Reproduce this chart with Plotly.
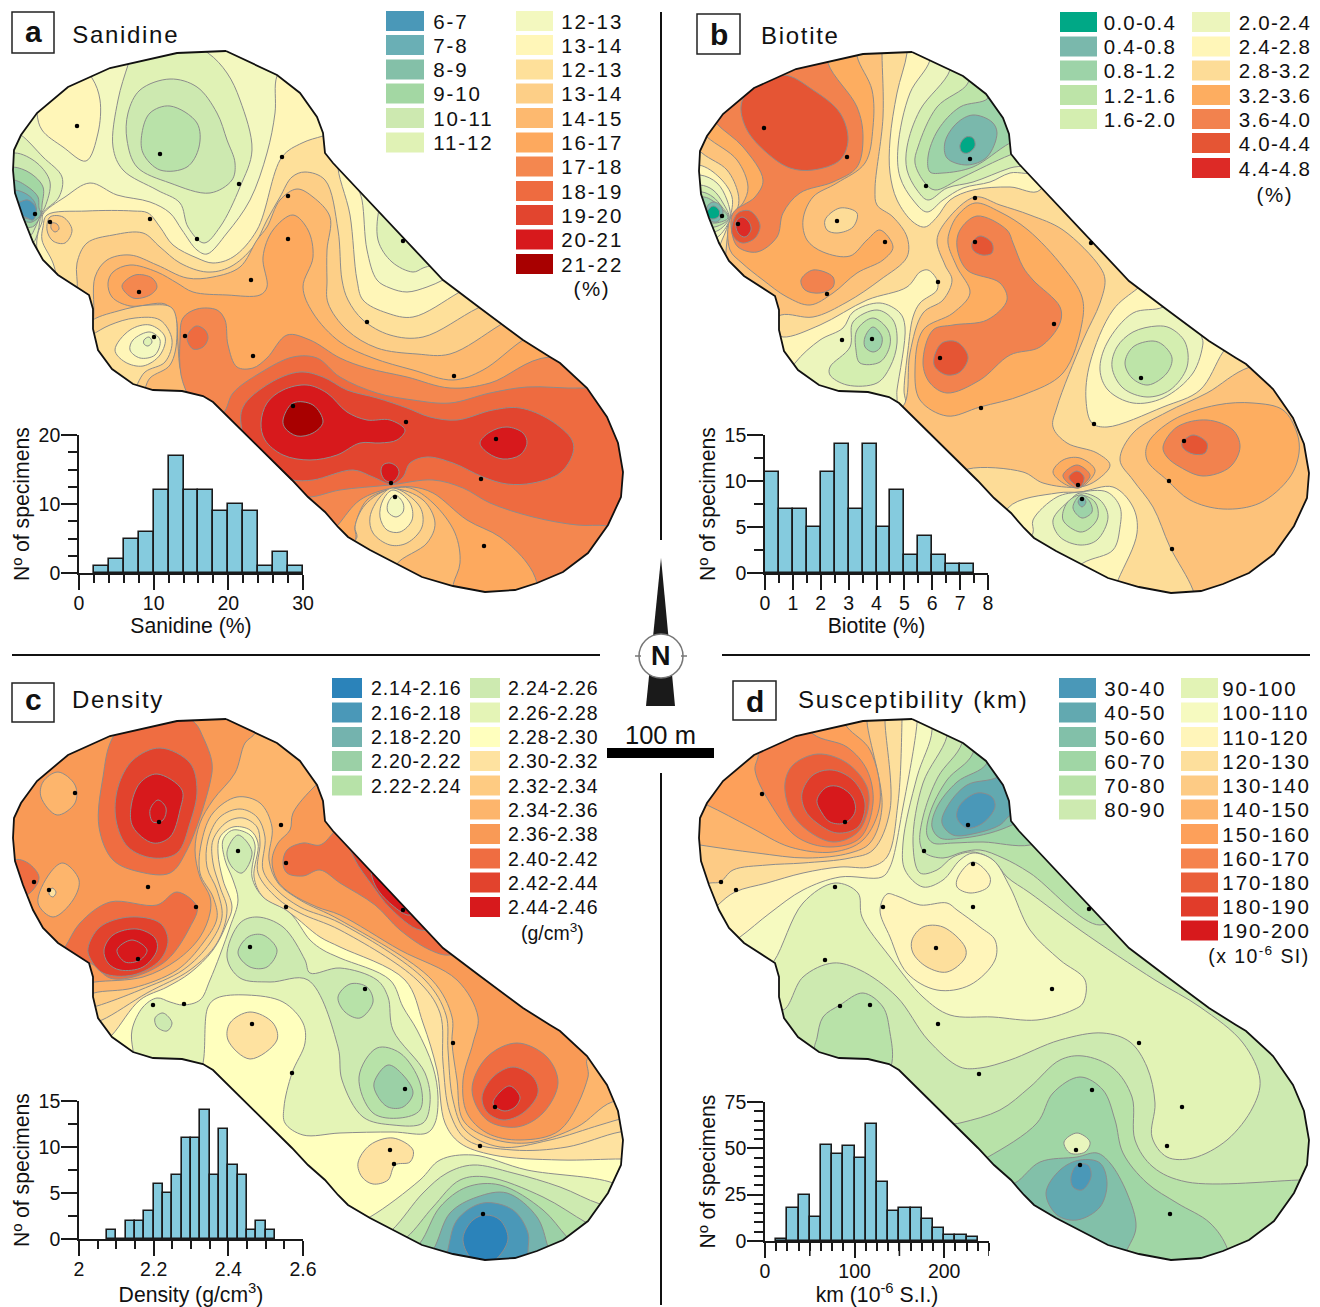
import json, re
import plotly.graph_objects as go

W, H = 1320, 1307
# ---------- shared map outline (page px, panel a frame) and panel offsets ----------
OUTLINE = [(226,51),(250,62),(277,75),(300,93),(317,117),(323,133),(325,153),(333,163),(443,280),(480,308),(500,323),
 (523,340),(550,357),(560,363),(587,388),(607,417),(618,443),(623,472),(621,497),(608,525),(588,553),(563,572),(537,583),
 (515,590),(485,592),(453,586),(422,577),(397,564),(370,550),(348,537),(338,527),(325,512),(308,497),(292,480),(242,430),
 (224,413),(213,402),(203,396),(182,391),(153,390),(133,384),(112,369),(98,350),(93,329),(93,309),(89,295),(77,287),
 (58,275),(43,260),(33,242),(23,217),(15,193),(13,170),(14,150),(21,135),(37,113),(68,87),(110,68),(177,53),(226,51)]
OFFSETS = {"a":(0,0),"b":(686,1),"c":(0,668),"d":(686,668)}
MASKS = {"a":(-5,705,-5,665),"b":(628,1330,-5,665),"c":(-5,705,620,1330),"d":(628,1330,620,1330)}

# ---------- panel a: Sanidine ----------
A_LABELS_1 = ["6-7","7-8","8-9","9-10","10-11","11-12"]
A_COLORS_1 = ["#4a98b8","#6aafb5","#84c0a8","#a3d7a3","#cde9b0","#e0f2b5"]
A_LABELS_2 = ["12-13","13-14","12-13","13-14","14-15","16-17","17-18","18-19","19-20","20-21","21-22"]
A_COLORS_2 = ["#f3f8bf","#fff6b8","#fee09a","#fdcf87","#fdb96f","#fda95e","#f4874f","#ee6b40","#e2452f","#d7191c","#a80000"]
A_SITES = [(77,126),(160,154),(282,157),(239,184),(288,196),(35,214),(50,222),(150,219),(197,239),(288,239),(251,280),(139,292),
 (367,322),(253,356),(454,376),(293,406),(406,422),(496,439),(391,483),(395,497),(481,479),(484,546),(185,336),(154,337),(403,241)]
A_BANDS = [
 ("#fff6b8",[(92,78),(100,100),(98,133),(86,161),(63,147),(42,130),(37,113),(40,70),(70,55)]),
 ("#e0f2b5",[(128,65),(118,100),(113,147),(123,170),(157,190),(180,203),(188,227),(204,243),(220,227),(240,187),(252,150),(240,100),(227,73),(208,53),(170,35),(135,45)]),
 ("#cde9b0",[(170,79),(140,90),(128,113),(127,140),(137,167),(170,183),(210,193),(232,180),(235,163),(227,140),(217,113),(197,87),(170,79)]),
 ("#b9e2a9",[(170,106),(150,113),(142,133),(143,153),(160,170),(187,167),(199,147),(197,123),(170,106)]),
 ("#e0f2b5",[(21,135),(43,157),(62,177),(59,197),(42,214),(38,232),(33,243),(15,250),(0,180),(10,130)]),
 ("#cde9b0",[(15,153),(37,163),(50,182),(45,207),(41,214),(35,228),(30,236),(10,240),(0,160)]),
 ("#a3d7a3",[(13,167),(30,173),(43,187),(42,205),(41,214),(34,226),(27,228),(5,235),(0,170)]),
 ("#84c0a8",[(13,180),(28,187),(38,197),(39,208),(41,214),(32,222),(24,222),(5,230),(0,185)]),
 ("#6aafb5",[(14,190),(28,195),(35,203),(36,213),(33,219),(22,218),(5,225),(0,195)]),
 ("#4a98b8",[(20,202),(28,200),(36,208),(33,220),(25,217),(15,215),(15,204)]),
 ("#fff6b8",[(43,214),(65,197),(90,183),(117,195),(150,202),(170,213),(182,230),(197,250),(207,254),(227,233),(250,200),(267,153),(275,113),(277,76),(290,60),(345,70),(660,300),(660,640),(300,640),(100,400),(50,290),(37,250),(38,233),(42,222),(43,214)]),
 ("#fee09a",[(47,215),(87,211),(133,211),(148,213),(160,227),(173,245),(197,258),(213,263),(233,257),(257,230),(282,157),(302,143),(323,136),(345,130),(660,310),(660,640),(300,640),(100,400),(60,290),(53,263),(42,240),(43,227),(47,215)]),
 ("#fdcf87",[(50,217),(63,217),(72,230),(65,243),(53,241),(47,230),(50,217)]),
 ("#fdb96f",[(52,223),(57,224),(59,229),(55,232),(51,228),(52,223)]),
 ("#fff6b8",[(338,163),(350,215),(357,280),(363,300),(387,313),(413,317),(458,293),(480,280),(345,150)]),
 ("#f3f8bf",[(355,175),(362,200),(367,250),(377,280),(390,288),(407,292),(427,287),(443,280),(460,270),(370,170)]),
 ("#e0f2b5",[(380,205),(378,240),(392,262),(413,272),(423,268),(440,260),(385,195)]),
 ("#fdcf87",[(77,290),(77,263),(87,243),(113,235),(143,233),(160,247),(180,263),(207,272),(230,267),(253,247),(267,220),(280,197),(292,177),(305,172),(325,180),(338,230),(342,280),(348,300),(363,320),(390,335),(423,337),(478,308),(520,290),(660,400),(660,640),(300,640),(100,400),(70,310)]),
 ("#fdb96f",[(93,322),(95,277),(107,260),(130,255),(157,265),(187,278),(213,277),(240,267),(257,240),(267,227),(280,200),(297,189),(313,197),(330,217),(327,250),(327,280),(328,303),(347,330),(377,348),(417,354),(450,354),(500,325),(540,300),(660,400),(660,640),(300,640),(100,400),(85,340)]),
 ("#fda95e",[(108,283),(113,272),(130,265),(157,272),(177,283),(193,292),(227,295),(260,295),(267,287),(263,257),(273,230),(293,215),(308,230),(313,257),(303,287),(313,313),(340,342),(373,358),(413,370),(453,380),(483,370),(523,340),(560,320),(660,400),(660,640),(300,640),(195,400),(181,372),(178,345),(175,315),(165,304),(130,306),(112,297)]),
 ("#fdcf87",[(90,322),(118,311),(150,305),(172,308),(177,335),(170,365),(150,378),(140,395),(100,375),(80,340)]),
 ("#fee09a",[(92,335),(110,325),(135,318),(160,320),(172,340),(165,362),(145,372),(130,392),(100,370),(85,340)]),
 ("#fff6b8",[(115,350),(130,330),(150,325),(165,337),(160,355),(143,366),(125,362),(115,350)]),
 ("#f3f8bf",[(133,340),(150,332),(160,340),(155,355),(140,358),(130,350),(133,340)]),
 ("#e0f2b5",[(144,340),(149,337),(152,342),(148,346),(144,344),(144,340)]),
 ("#f4874f",[(122,286),(135,275),(152,278),(157,287),(150,295),(133,298),(122,286)]),
 ("#f4874f",[(190,400),(181,375),(180,340),(183,318),(197,309),(217,310),(225,320),(228,345),(237,367),(253,368),(267,358),(287,335),(310,340),(340,358),(367,368),(407,377),(450,388),(490,383),(550,357),(700,400),(700,650),(300,650),(200,420)]),
 ("#ee6b40",[(187,337),(196,326),(205,330),(208,338),(203,347),(193,349),(187,337)]),
 ("#ee6b40",[(223,413),(233,393),(260,373),(293,357),(317,358),(340,377),(377,393),(413,400),(450,403),(490,393),(527,387),(583,388),(660,380),(660,540),(608,526),(577,525),(533,517),(490,503),(463,488),(433,480),(390,485),(340,490),(308,497),(280,490),(200,420)]),
 ("#e2452f",[(242,430),(243,407),(270,383),(300,372),(323,377),(347,390),(377,398),(407,408),(430,417),(457,420),(493,410),(520,408),(550,420),(572,440),(573,453),(560,473),(533,483),(507,484),(483,477),(453,463),(427,457),(410,463),(403,477),(392,484),(373,477),(353,470),(313,480),(292,480),(260,470)]),
 ("#d7191c",[(261,423),(267,403),(283,390),(307,385),(327,393),(347,412),(367,420),(390,420),(405,430),(397,440),(380,443),(360,443),(337,455),(310,460),(283,455),(265,440),(261,423)]),
 ("#d7191c",[(480,443),(490,432),(507,427),(523,433),(527,443),(520,455),(503,459),(488,453),(480,443)]),
 ("#d7191c",[(381,472),(383,465),(390,463),(397,467),(399,473),(395,480),(391,482),(385,480),(381,472)]),
 ("#a80000",[(283,420),(293,403),(313,405),(323,422),(313,433),(297,436),(285,428),(283,420)]),
 ("#fda95e",[(537,583),(527,563),(500,537),(467,520),(433,493),(413,487),(392,488),(360,500),(338,525),(325,540),(340,600),(540,620)]),
 ("#fdb96f",[(453,585),(460,563),(455,533),(433,503),(410,488),(392,489),(367,500),(355,527),(356,537),(350,560),(450,610)]),
 ("#fdcf87",[(397,564),(427,543),(435,523),(423,500),(392,489),(365,505),(355,527),(357,537),(350,550),(395,580)]),
 ("#fee09a",[(393,488),(420,507),(422,527),(407,543),(390,545),(373,533),(370,517),(380,497),(393,488)]),
 ("#fff6b8",[(393,490),(410,503),(412,520),(400,532),(387,530),(380,517),(383,500),(393,490)]),
 ("#f3f8bf",[(395,495),(403,503),(403,512),(396,517),(388,512),(388,503),(395,495)]),
]

# ---------- panel b: Biotite ----------
B_LABELS_1 = ["0.0-0.4","0.4-0.8","0.8-1.2","1.2-1.6","1.6-2.0"]
B_COLORS_1 = ["#00a886","#7ab8ac","#9dd3a8","#bde4a8","#d4eeb0"]
B_LABELS_2 = ["2.0-2.4","2.4-2.8","2.8-3.2","3.2-3.6","3.6-4.0","4.0-4.4","4.4-4.8"]
B_COLORS_2 = ["#ecf5bc","#fff6b8","#fddc97","#fdad60","#f2824e","#e55534","#dd2a26"]
B_SITES = [(764,128),(847,157),(970,159),(926,186),(975,198),(837,221),(885,242),(975,242),(722,216),(738,224),(827,294),(938,282),
 (842,340),(872,339),(940,358),(1054,324),(981,408),(1141,378),(1094,424),(1184,441),(1169,481),(1078,485),(1082,499),(1172,549),(1091,243)]
B_BANDS = [
 ("#fdc27a",[(882,54),(883,117),(875,190),(877,205),(893,217),(907,237),(907,257),(880,280),(847,302),(813,317),(781,315),(760,330),(720,290),(725,262),(727,240),(731,218),(738,207),(738,193),(727,170),(702,153),(670,120),(780,20),(882,30)]),
 ("#fdad60",[(857,56),(872,90),(873,127),(865,163),(837,183),(813,197),(803,220),(807,240),(823,252),(850,256),(867,240),(880,230),(893,247),(883,260),(857,273),(833,293),(810,305),(787,297),(763,280),(742,263),(730,250),(730,218),(743,203),(748,187),(737,160),(707,137),(680,110),(750,30),(857,30)]),
 ("#f2824e",[(828,63),(857,107),(863,137),(857,167),(833,182),(800,193),(783,213),(777,237),(757,252),(738,247),(732,233),(733,213),(755,197),(763,180),(743,147),(716,123),(700,100),(747,50),(828,35)]),
 ("#e55534",[(783,75),(813,90),(840,113),(848,140),(840,160),(813,170),(790,168),(767,153),(747,130),(741,107),(747,93),(783,75)]),
 ("#e55534",[(732,226),(738,213),(750,211),(760,225),(755,238),(742,243),(733,236),(732,226)]),
 ("#dd2a26",[(736,222),(742,217),(749,222),(751,230),(745,237),(738,233),(736,222)]),
 ("#fddc97",[(825,220),(840,208),(857,213),(853,227),(837,233),(827,230),(825,220)]),
 ("#f2824e",[(801,280),(813,270),(833,277),(833,287),(820,293),(805,290),(801,280)]),
 ("#fff6b8",[(699,165),(720,178),(732,197),(730,218),(722,240),(716,250),(680,240),(670,170)]),
 ("#ecf5bc",[(700,175),(717,183),(727,200),(730,218),(720,235),(711,240),(680,240),(675,180)]),
 ("#d4eeb0",[(700,185),(713,190),(723,203),(729,218),(719,230),(707,233),(680,235),(680,190)]),
 ("#bde4a8",[(702,192),(713,197),(722,207),(729,218),(718,226),(705,228),(685,230),(685,195)]),
 ("#9dd3a8",[(704,197),(713,201),(722,209),(728,218),(716,223),(703,222),(690,225),(690,200)]),
 ("#7ab8ac",[(707,207),(713,202),(720,205),(723,213),(717,222),(710,220),(707,207)]),
 ("#00a886",[(707,212),(713,206),(719,210),(719,216),(713,219),(708,217),(707,212)]),
 ("#fff6b8",[(907,53),(897,93),(890,140),(890,173),(897,200),(913,222),(925,227),(937,217),(950,200),(973,190),(1010,187),(1040,190),(1040,30),(907,30)]),
 ("#ecf5bc",[(930,60),(910,93),(898,147),(900,177),(913,200),(927,212),(943,200),(963,188),(990,182),(1010,173),(1040,170),(1040,30),(930,30)]),
 ("#d4eeb0",[(950,70),(920,110),(907,147),(907,170),(917,190),(928,200),(947,188),(973,182),(1010,168),(1040,160),(1040,30),(950,40)]),
 ("#bde4a8",[(968,83),(937,107),(918,147),(915,163),(925,183),(935,190),(963,177),(1010,155),(1040,145),(1040,50),(968,60)]),
 ("#9dd3a8",[(988,98),(960,107),(938,130),(928,157),(930,172),(943,173),(973,167),(1010,143),(1040,130),(1040,70),(988,75)]),
 ("#7ab8ac",[(973,115),(957,123),(945,142),(947,158),(967,165),(987,157),(997,133),(992,122),(973,115)]),
 ("#00a886",[(960,145),(966,137),(973,138),(975,146),(968,153),(962,152),(960,145)]),
 ("#fff6b8",[(783,337),(820,325),(867,300),(907,287),(920,272),(928,270),(937,280),(937,290),(920,303),(913,317),(908,350),(904,390),(905,410),(850,410),(760,370),(770,330)]),
 ("#ecf5bc",[(795,363),(820,340),(843,328),(853,312),(880,303),(900,313),(905,327),(897,390),(895,405),(840,405),(780,390)]),
 ("#d4eeb0",[(830,367),(850,347),(853,322),(877,310),(893,320),(897,343),(890,367),(877,383),(847,385),(830,375),(830,367)]),
 ("#bde4a8",[(857,330),(873,318),(888,330),(890,345),(880,362),(860,363),(856,350),(857,330)]),
 ("#9dd3a8",[(865,337),(873,327),(882,337),(880,348),(873,352),(865,347),(865,337)]),
 ("#fdc27a",[(975,197),(1000,205),(1030,215),(1063,230),(1100,267),(1105,280),(1100,303),(1083,340),(1057,407),(1053,427),(1067,443),(1097,453),(1110,465),(1097,480),(1080,487),(1043,483),(1023,472),(968,469),(950,480),(890,420),(905,403),(910,353),(923,313),(943,300),(952,280),(945,265),(937,240),(947,220),(975,197)]),
 ("#fdad60",[(950,230),(958,215),(975,203),(1000,212),(1028,230),(1063,267),(1082,297),(1082,323),(1063,373),(1023,395),(980,407),(947,416),(920,400),(915,370),(923,330),(953,313),(970,293),(957,267),(948,243),(950,230)]),
 ("#f2824e",[(960,230),(977,216),(1007,230),(1013,243),(1023,267),(1033,280),(1060,307),(1060,323),(1040,347),(1010,355),(980,380),(947,393),(930,383),(923,363),(933,330),(953,325),(987,320),(1007,300),(1000,283),(967,270),(957,247),(960,230)]),
 ("#e55534",[(972,243),(980,236),(992,243),(992,253),(982,255),(973,250),(972,243)]),
 ("#e55534",[(934,358),(942,343),(957,342),(968,357),(960,372),(947,375),(935,367),(934,358)]),
 ("#fff6b8",[(1138,288),(1113,310),(1090,363),(1086,400),(1092,423),(1107,427),(1163,407),(1200,390),(1223,352),(1240,330),(1160,270)]),
 ("#ecf5bc",[(1163,307),(1133,313),(1107,343),(1100,370),(1108,390),(1133,403),(1163,398),(1193,373),(1203,343),(1202,335),(1220,320),(1180,290)]),
 ("#d4eeb0",[(1157,326),(1133,332),(1117,347),(1112,367),(1123,388),(1147,397),(1170,390),(1187,367),(1185,342),(1170,328),(1157,326)]),
 ("#bde4a8",[(1153,341),(1133,347),(1125,363),(1132,378),(1148,385),(1167,373),(1172,358),(1163,345),(1153,341)]),
 ("#fdc27a",[(1250,367),(1207,393),(1167,412),(1133,433),(1120,460),(1133,480),(1153,507),(1170,547),(1193,590),(1200,620),(1325,620),(1325,360)]),
 ("#fdad60",[(1297,433),(1283,410),(1253,403),(1217,405),(1173,420),(1148,443),(1147,460),(1167,480),(1190,500),(1223,509),(1260,503),(1290,477),(1299,453),(1297,433)]),
 ("#f2824e",[(1163,447),(1177,427),(1207,420),(1233,430),(1240,447),(1230,467),(1203,476),(1180,467),(1167,457),(1163,447)]),
 ("#e55534",[(1182,443),(1193,435),(1207,443),(1205,453),(1193,454),(1183,448),(1182,443)]),
 ("#fdad60",[(1053,472),(1063,460),(1080,458),(1095,470),(1087,483),(1078,488),(1063,483),(1053,472)]),
 ("#f2824e",[(1063,475),(1077,465),(1090,475),(1085,483),(1078,488),(1068,483),(1063,475)]),
 ("#e55534",[(1069,477),(1077,471),(1084,477),(1080,487),(1073,483),(1069,477)]),
 ("#fff6b8",[(1008,508),(1057,493),(1080,492),(1113,487),(1133,507),(1137,533),(1118,580),(1100,620),(1000,560)]),
 ("#ecf5bc",[(1033,533),(1033,520),(1057,497),(1080,492),(1107,492),(1120,507),(1120,527),(1113,550),(1083,563),(1050,590),(1020,550)]),
 ("#d4eeb0",[(1080,545),(1060,537),(1053,520),(1070,500),(1080,493),(1100,500),(1108,517),(1097,540),(1080,545)]),
 ("#bde4a8",[(1080,532),(1063,520),(1067,503),(1080,495),(1095,502),(1098,517),(1090,528),(1080,532)]),
 ("#9dd3a8",[(1082,518),(1073,508),(1078,497),(1082,495),(1090,502),(1092,512),(1082,518)]),
 ("#7ab8ac",[(1082,507),(1078,502),(1082,497),(1086,502),(1082,507)]),
]

# ---------- panel c: Density ----------
C_LABELS_1 = ["2.14-2.16","2.16-2.18","2.18-2.20","2.20-2.22","2.22-2.24"]
C_COLORS_1 = ["#2b83ba","#4a98b8","#74b3ae","#9bd0a6","#b7e2a8"]
C_LABELS_2 = ["2.24-2.26","2.26-2.28","2.28-2.30","2.30-2.32","2.32-2.34","2.34-2.36","2.36-2.38","2.40-2.42","2.42-2.44","2.44-2.46"]
C_COLORS_2 = ["#cdeab0","#e4f4b6","#ffffbe","#fee2a0","#fecb82","#fdb56c","#f99a56","#ef6d41","#e2432d","#d7191c"]
C_SITES = [(75,793),(159,822),(281,825),(238,851),(286,863),(34,882),(49,890),(148,887),(196,907),(286,907),(250,947),(138,959),
 (153,1005),(184,1004),(252,1024),(365,989),(453,1043),(292,1073),(405,1089),(495,1107),(480,1146),(390,1150),(394,1164),(483,1214),(403,910)]
C_BANDS = [
 ("#fdb56c",[(255,715),(255,733),(245,743),(235,773),(213,800),(200,823),(195,850),(200,877),(210,897),(210,913),(200,937),(177,960),(143,977),(95,982),(80,985),(95,1060),(230,1320),(660,1320),(660,1060),(588,1058),(588,1077),(560,1130),(520,1140),(487,1133),(467,1113),(463,1080),(473,1043),(478,1017),(457,980),(400,950),(340,915),(317,907),(290,893),(277,880),(272,860),(278,843),(290,830),(293,813),(315,786),(335,770),(300,715)]),
 ("#fecb82",[(94,993),(133,988),(177,970),(203,943),(217,918),(213,897),(200,873),(202,840),(213,813),(237,797),(260,803),(272,827),(269,860),(278,883),(300,900),(340,920),(432,980),(452,1017),(452,1043),(457,1080),(463,1120),(487,1137),(527,1143),(577,1127),(612,1102),(650,1100),(650,1320),(230,1320),(80,1100),(80,1000)]),
 ("#fed892",[(97,1006),(140,990),(183,970),(210,943),(222,917),(217,890),(207,867),(208,840),(220,817),(240,809),(257,817),(265,837),(263,870),(277,890),(300,907),(340,923),(425,980),(446,1015),(448,1050),(453,1100),(465,1130),(500,1147),(550,1140),(600,1125),(625,1118),(650,1115),(650,1320),(230,1320),(80,1100),(80,1010)]),
 ("#fee2a0",[(102,1020),(147,993),(190,970),(217,943),(227,910),(220,887),(213,863),(213,840),(227,822),(243,818),(257,827),(260,843),(258,873),(277,898),(300,913),(340,930),(417,980),(440,1013),(443,1063),(450,1113),(467,1140),(513,1150),(567,1147),(620,1132),(650,1130),(650,1320),(230,1320),(90,1100),(85,1025)]),
 ("#ffffbe",[(112,1035),(140,1000),(167,987),(190,973),(213,950),(227,923),(232,907),(223,880),(218,853),(220,837),(233,827),(250,830),(258,843),(254,877),(263,897),(290,913),(320,937),(340,947),(405,980),(423,1023),(437,1070),(445,1123),(460,1143),(493,1155),(560,1160),(622,1159),(650,1160),(650,1320),(230,1320),(100,1120),(95,1050)]),
 ("#e4f4b6",[(133,1050),(132,1030),(143,1007),(157,998),(170,1002),(183,1005),(200,1000),(210,980),(230,927),(238,900),(233,880),(225,860),(223,840),(233,830),(250,835),(255,845),(252,877),(263,897),(290,913),(310,940),(323,950),(340,958),(390,980),(403,1007),(417,1030),(433,1067),(438,1097),(435,1123),(427,1133),(393,1132),(340,1133),(303,1135),(285,1123),(284,1107),(292,1073),(305,1043),(303,1023),(283,1002),(247,995),(217,998),(208,1007),(203,1063),(195,1085),(140,1075)]),
 ("#fee2a0",[(250,1012),(230,1023),(228,1040),(250,1059),(277,1040),(273,1023),(250,1012)]),
 ("#cdeab0",[(155,1018),(163,1013),(172,1023),(167,1031),(157,1027),(155,1018)]),
 ("#cdeab0",[(227,852),(238,835),(252,852),(242,873),(232,867),(227,852)]),
 ("#cdeab0",[(227,957),(240,923),(257,917),(283,927),(305,960),(310,973),(340,968),(377,980),(388,997),(393,1030),(425,1073),(430,1103),(423,1123),(393,1125),(363,1117),(342,1080),(338,1047),(308,980),(270,982),(240,978),(227,957)]),
 ("#b7e2a8",[(338,997),(350,984),(367,987),(373,1002),(360,1018),(345,1012),(338,997)]),
 ("#b7e2a8",[(238,953),(248,937),(263,935),(277,950),(267,967),(250,967),(238,953)]),
 ("#b7e2a8",[(359,1077),(377,1048),(400,1053),(420,1083),(420,1110),(400,1118),(373,1113),(359,1077)]),
 ("#9bd0a6",[(374,1083),(388,1065),(403,1075),(413,1093),(403,1107),(388,1107),(377,1095),(374,1083)]),
 ("#e4f4b6",[(370,1217),(420,1180),(440,1160),(473,1155),(527,1170),(613,1183),(640,1200),(620,1320),(300,1320),(340,1230)]),
 ("#cdeab0",[(392,1230),(423,1193),(447,1173),(473,1165),(513,1173),(560,1187),(600,1204),(630,1210),(610,1320),(320,1320),(370,1245)]),
 ("#b7e2a8",[(407,1237),(433,1207),(460,1180),(487,1177),(543,1197),(587,1223),(620,1240),(600,1320),(340,1320),(385,1250)]),
 ("#9bd0a6",[(420,1243),(440,1207),(467,1187),(500,1185),(543,1210),(567,1237),(590,1260),(580,1320),(360,1320),(400,1260)]),
 ("#74b3ae",[(433,1250),(450,1213),(477,1197),(507,1193),(537,1217),(548,1247),(555,1270),(550,1320),(380,1320),(415,1270)]),
 ("#4a98b8",[(447,1253),(457,1220),(483,1203),(513,1210),(528,1233),(528,1252),(530,1280),(520,1320),(420,1320),(440,1275)]),
 ("#2b83ba",[(463,1238),(473,1220),(486,1215),(500,1220),(508,1238),(500,1255),(486,1265),(470,1257),(463,1238)]),
 ("#fee2a0",[(358,1163),(370,1145),(393,1138),(413,1150),(410,1162),(395,1165),(388,1180),(373,1184),(362,1177),(358,1163)]),
 ("#ef6d41",[(472,1090),(487,1057),(517,1043),(547,1057),(558,1083),(543,1113),(517,1127),(487,1120),(472,1090)]),
 ("#e2432d",[(482,1097),(493,1077),(513,1067),(533,1077),(538,1093),(523,1113),(503,1120),(487,1112),(482,1097)]),
 ("#d7191c",[(493,1103),(500,1092),(510,1086),(520,1097),(515,1107),(505,1111),(497,1108),(493,1103)]),
 ("#ef6d41",[(113,737),(103,777),(99,827),(113,860),(140,872),(170,873),(187,850),(210,783),(212,763),(203,737),(194,722),(150,700)]),
 ("#e2432d",[(160,748),(133,760),(118,787),(116,820),(128,847),(153,858),(177,853),(190,823),(197,790),(190,763),(160,748)]),
 ("#d7191c",[(157,774),(140,783),(131,807),(133,827),(153,843),(170,837),(180,810),(182,790),(157,774)]),
 ("#d7191c",[(158,800),(150,810),(153,822),(163,820),(166,808),(158,800)]),
 ("#fdb56c",[(58,772),(43,782),(41,797),(57,815),(75,803),(75,785),(58,772)]),
 ("#fdb56c",[(63,863),(50,873),(38,903),(53,917),(73,900),(79,880),(63,863)]),
 ("#fee2a0",[(52,888),(56,892),(53,897),(49,894),(52,888)]),
 ("#ef6d41",[(15,860),(28,863),(39,877),(33,890),(25,895),(5,880)]),
 ("#ef6d41",[(65,947),(80,923),(110,902),(157,905),(177,892),(197,907),(190,927),(167,960),(133,977),(110,978),(90,963),(55,960)]),
 ("#e2432d",[(88,948),(100,927),(130,917),(160,923),(168,940),(160,960),(133,975),(103,973),(90,958),(88,948)]),
 ("#d7191c",[(104,950),(113,935),(137,929),(155,938),(157,950),(143,967),(120,970),(108,963),(104,950)]),
 ("#d7191c",[(117,950),(132,940),(147,950),(140,960),(125,962),(117,950)]),
 ("#ef6d41",[(283,863),(287,850),(303,843),(320,845),(333,833),(345,815),(480,940),(450,955),(430,950),(400,930),(375,905),(340,883),(320,870),(303,876),(287,873),(283,863)]),
 ("#e2432d",[(350,845),(355,860),(372,885),(390,908),(420,930),(440,925),(360,830),(350,845)]),
 ("#d7191c",[(372,868),(375,885),(392,905),(410,915),(420,900),(385,865),(372,868)]),
]

# ---------- panel d: Susceptibility ----------
D_LABELS_1 = ["30-40","40-50","50-60","60-70","70-80","80-90"]
D_COLORS_1 = ["#4a98b8","#62a9b0","#82c0a9","#a0d6a5","#b8e2a8","#cdeab0"]
D_LABELS_2 = ["90-100","100-110","110-120","120-130","130-140","140-150","150-160","160-170","170-180","180-190","190-200"]
D_COLORS_2 = ["#e2f3b5","#f6fac0","#fff5ba","#fddf9c","#fdcb85","#fdb56d","#fda05a","#f5834d","#ea5f3a","#e13c2a","#d7191c"]
D_SITES = [(762,794),(845,822),(968,825),(924,851),(973,864),(721,882),(736,890),(835,887),(883,907),(973,907),(936,948),(825,960),
 (840,1006),(870,1005),(938,1024),(1052,989),(979,1074),(1139,1043),(1092,1090),(1182,1107),(1167,1146),(1076,1150),(1080,1165),(1170,1214),(1089,909)]
D_BANDS = [
 ("#e2f3b5",[(947,736),(923,783),(913,843),(920,873),(937,870),(953,857),(973,852),(993,860),(1007,877),(1030,893),(1080,930),(1155,980),(1200,1007),(1243,1043),(1260,1080),(1253,1107),(1227,1140),(1193,1158),(1167,1157),(1152,1137),(1155,1103),(1147,1067),(1130,1042),(1103,1033),(1060,1040),(1010,1060),(980,1068),(960,1067),(928,1040),(897,997),(860,970),(833,963),(803,977),(783,1010),(760,1000),(680,950),(660,700),(947,700)]),
 ("#f6fac0",[(925,700),(932,730),(917,777),(903,843),(905,870),(923,887),(943,880),(960,860),(973,853),(993,860),(1010,887),(1030,930),(1060,960),(1085,980),(1083,1003),(1073,1010),(1037,1020),(993,1017),(950,1015),(923,997),(890,957),(862,917),(858,893),(835,883),(803,903),(774,961),(760,975),(680,950),(660,700)]),
 ("#fff5ba",[(917,723),(903,807),(890,867),(882,877),(840,877),(803,890),(770,913),(740,937),(720,950),(680,940),(660,700),(917,700)]),
 ("#fddf9c",[(902,720),(898,803),(887,857),(870,867),(840,867),(803,873),(767,883),(735,892),(718,905),(700,925),(670,910),(660,700),(902,700)]),
 ("#fdcb85",[(885,722),(890,810),(873,850),(850,858),(803,863),(767,865),(733,870),(720,882),(710,883),(680,890),(660,700),(885,700)]),
 ("#fdb56d",[(867,722),(882,807),(870,843),(850,853),(807,858),(757,853),(700,845),(670,840),(660,700),(867,700)]),
 ("#fda05a",[(707,805),(750,827),(790,847),(833,852),(863,840),(880,803),(870,750),(847,727),(830,700),(670,700),(670,790)]),
 ("#f5834d",[(758,753),(755,770),(770,803),(797,837),(830,847),(860,838),(873,803),(867,770),(847,747),(813,734),(790,700),(740,730)]),
 ("#ea5f3a",[(785,783),(793,765),(818,754),(847,763),(867,787),(868,810),(857,833),(833,842),(807,830),(790,810),(785,783)]),
 ("#e13c2a",[(802,793),(813,775),(832,770),(853,780),(865,803),(858,827),(837,833),(817,823),(805,810),(802,793)]),
 ("#d7191c",[(817,800),(827,787),(840,787),(853,798),(855,812),(845,823),(830,822),(822,813),(817,800)]),
 ("#fff5ba",[(973,862),(958,877),(957,887),(970,893),(988,887),(990,877),(973,862)]),
 ("#fff5ba",[(887,894),(880,910),(890,937),(907,973),(937,990),(970,985),(995,960),(995,940),(980,927),(957,910),(947,903),(920,905),(897,896),(887,894)]),
 ("#fddf9c",[(912,940),(923,927),(943,927),(965,947),(965,958),(947,972),(927,967),(913,953),(912,940)]),
 ("#b8e2a8",[(962,743),(938,777),(923,817),(920,843),(925,853),(943,858),(963,852),(980,850),(1003,858),(1030,873),(1100,925),(1130,900),(1060,700),(962,700)]),
 ("#a0d6a5",[(973,753),(947,780),(930,813),(927,835),(933,843),(953,843),(983,842),(1030,845),(1060,830),(1040,700),(973,700)]),
 ("#82c0a9",[(987,763),(957,782),(937,807),(932,827),(940,838),(963,838),(990,833),(1012,825),(1040,810),(1030,700),(987,720)]),
 ("#62a9b0",[(998,777),(967,785),(947,807),(942,823),(953,835),(977,833),(1000,825),(1011,815),(1040,810),(1030,750)]),
 ("#4a98b8",[(977,793),(960,805),(957,818),(967,828),(983,823),(995,807),(992,797),(977,793)]),
 ("#b8e2a8",[(817,1038),(823,1017),(840,1005),(863,993),(883,1007),(890,1033),(892,1062),(880,1090),(840,1070),(815,1050)]),
 ("#b8e2a8",[(960,1123),(1000,1110),(1030,1087),(1060,1060),(1083,1056),(1113,1068),(1132,1097),(1135,1140),(1153,1167),(1187,1182),(1302,1180),(1325,1180),(1325,1320),(960,1320),(920,1130)]),
 ("#a0d6a5",[(988,1157),(1037,1123),(1053,1093),(1080,1077),(1103,1090),(1115,1120),(1123,1153),(1147,1183),(1177,1203),(1210,1223),(1228,1250),(1240,1320),(970,1320),(960,1170)]),
 ("#82c0a9",[(1015,1183),(1040,1162),(1077,1157),(1097,1153),(1110,1163),(1127,1193),(1136,1227),(1127,1250),(1100,1300),(1000,1300),(990,1190)]),
 ("#62a9b0",[(1046,1193),(1060,1170),(1080,1160),(1100,1163),(1107,1183),(1100,1207),(1077,1220),(1057,1215),(1046,1193)]),
 ("#4a98b8",[(1071,1177),(1077,1165),(1088,1165),(1091,1177),(1082,1190),(1073,1187),(1071,1177)]),
 ("#e8f5bd",[(1064,1142),(1077,1133),(1090,1142),(1085,1152),(1070,1153),(1064,1142)]),
]

# ---------- histograms ----------
SAN_START, SAN_WIDTH = 2, 2
SAN_COUNTS = [1,2,5,6,12,17,12,12,9,10,9,1,3,1]
BIO_START, BIO_WIDTH = 0, 0.5
BIO_COUNTS = [11,7,7,5,11,14,7,14,5,9,2,4,2,1,1]
DEN_START, DEN_WIDTH = 2.075, 0.025
DEN_COUNTS = [1,0,2,2,3,6,5,7,11,11,14,7,12,8,7,1,2,1]
SUS_START, SUS_WIDTH = 12.5, 12.5
SUS_COUNTS = [1,18,25,13,52,47,51,45,63,32,16,18,18,12,7,3,3,2]
SUS_LONG_TICKS = [50,150,250]
Y_TITLE = "Nº of specimens"

HISTS = [
 dict(n=2,start=SAN_START,w=SAN_WIDTH,c=SAN_COUNTS,xr=(0,30),yr=(0,20),px=(79,303),py=(435,573),xd=10,xm=2,yd=10,ym=2.5,x0=0,title="Sanidine (%)",gap=4),
 dict(n=3,start=BIO_START,w=BIO_WIDTH,c=BIO_COUNTS,xr=(0,8),yr=(0,15),px=(765,988),py=(435,573),xd=1,xm=0.5,yd=5,ym=2.5,x0=0,title="Biotite (%)",gap=4),
 dict(n=4,start=DEN_START,w=DEN_WIDTH,c=DEN_COUNTS,xr=(2,2.6),yr=(0,15),px=(79,303),py=(1101,1239),xd=0.2,xm=0.05,yd=5,ym=2.5,x0=2,title="Density (g/cm<sup>3</sup>)",gap=1),
 dict(n=5,start=SUS_START,w=SUS_WIDTH,c=SUS_COUNTS,xr=(0,250),yr=(0,75),px=(765,989),py=(1102,1241),xd=100,xm=12.5,yd=25,ym=5,x0=0,title="km (10<sup>-6</sup> S.I.)",gap=2),
]

BAR_FILL = "#85cbde"
INK = "#1a1a1a"
CONTOUR = "#8c8c8c"
TEXT_FONT = "Liberation Sans"

fig = go.Figure()

def poly(pts, color):
    xs = [p[0] for p in pts]; ys = [p[1] for p in pts]
    if (xs[0], ys[0]) != (xs[-1], ys[-1]):
        xs.append(xs[0]); ys.append(ys[0])
    fig.add_trace(go.Scatter(x=xs, y=ys, mode="lines", fill="toself", fillcolor=color,
        line=dict(color=CONTOUR, width=1, shape="spline", smoothing=1.0), hoverinfo="skip", showlegend=False))

PANELS = [("a", "#f3f8bf", A_BANDS, A_SITES), ("b", "#fddc97", B_BANDS, B_SITES),
          ("c", "#f99a56", C_BANDS, C_SITES), ("d", "#cdeab0", D_BANDS, D_SITES)]
for key, base, bands, sites in PANELS:
    dx, dy = OFFSETS[key]
    ox = [p[0]+dx for p in OUTLINE]; oy = [p[1]+dy for p in OUTLINE]
    fig.add_trace(go.Scatter(x=ox, y=oy, mode="lines", fill="toself", fillcolor=base, line=dict(width=0),
                             hoverinfo="skip", showlegend=False))
    for color, pts in bands:
        poly(pts, color)
    x0, x1, y0, y1 = MASKS[key]
    mx = [x0, x1, x1, x0, x0] + ox[::-1] + [x0]
    my = [y0, y0, y1, y1, y0] + oy[::-1] + [y0]
    fig.add_trace(go.Scatter(x=mx, y=my, mode="lines", fill="toself", fillcolor="white", line=dict(width=0),
                             hoverinfo="skip", showlegend=False))
    fig.add_trace(go.Scatter(x=ox, y=oy, mode="lines", line=dict(color="#111111", width=1.8),
                             hoverinfo="skip", showlegend=False))
    fig.add_trace(go.Scatter(x=[p[0] for p in sites], y=[p[1] for p in sites], mode="markers",
                             marker=dict(color="black", size=4.5), hoverinfo="skip", showlegend=False))

layout = dict(template="none", width=W, height=H, margin=dict(l=0, r=0, t=0, b=0, pad=0, autoexpand=False),
              paper_bgcolor="white", plot_bgcolor="rgba(0,0,0,0)", showlegend=False, bargap=0,
              xaxis=dict(range=[0, W], domain=[0, 1], visible=False, fixedrange=True),
              yaxis=dict(range=[H, 0], domain=[0, 1], visible=False, fixedrange=True))

for h in HISTS:
    n = h["n"]
    xs = [h["start"] + (i + 0.5) * h["w"] for i in range(len(h["c"]))]
    fig.add_trace(go.Bar(x=xs, y=h["c"], width=h["w"], xaxis=f"x{n}", yaxis=f"y{n}",
                         marker=dict(color=BAR_FILL, line=dict(color=INK, width=1.6)), hoverinfo="skip", showlegend=False))
    title_font = dict(family=TEXT_FONT, size=21.2, color="#111111")
    xa = dict(range=list(h["xr"]), domain=[h["px"][0]/W, h["px"][1]/W], anchor=f"y{n}", showgrid=False, zeroline=False,
              showline=True, linecolor=INK, linewidth=1.6, ticks="outside", ticklen=15, tickwidth=1.6, tickcolor=INK,
              tick0=h["x0"], dtick=h["xd"], automargin=False, ticklabelstandoff=-3,
              title=dict(text=h["title"], font=title_font, standoff=h["gap"]),
              tickfont=dict(family=TEXT_FONT, size=19.5, color="#111111"), fixedrange=True,
              minor=dict(dtick=h["xm"], tick0=h["x0"], ticks="outside", ticklen=8, tickwidth=1.6, tickcolor=INK, showgrid=False))
    ya = dict(range=list(h["yr"]), domain=[1-h["py"][1]/H, 1-h["py"][0]/H], anchor=f"x{n}", showgrid=False, zeroline=False,
              showline=True, linecolor=INK, linewidth=1.6, ticks="outside", ticklen=16, tickwidth=1.6, tickcolor=INK,
              tick0=0, dtick=h["yd"], automargin=False, ticklabelstandoff=-3,
              title=dict(text=Y_TITLE, font=title_font, standoff=3),
              tickfont=dict(family=TEXT_FONT, size=19.5, color="#111111"), fixedrange=True,
              minor=dict(dtick=h["ym"], tick0=0, ticks="outside", ticklen=9, tickwidth=1.6, tickcolor=INK, showgrid=False))
    layout[f"xaxis{n}"] = xa
    layout[f"yaxis{n}"] = ya

shapes, notes, tracking = [], [], {}

def note(x, y, text, size=20, anchor="center", angle=0, spacing=0):
    # letter-spacing widens the text about its centre, so a left or right anchor is moved by half the growth
    plain = re.sub(r"<[^>]+>", "", text)
    grow = len(plain) * spacing / 2
    if spacing:
        tracking[text] = spacing
    xx = x + grow if anchor == "left" else x - grow if anchor == "right" else x
    notes.append(dict(x=xx, y=y, xref="x", yref="y", text=text, showarrow=False, xanchor=anchor, yanchor="middle",
                      textangle=angle, font=dict(family=TEXT_FONT, size=size, color="#111111"), borderpad=0, borderwidth=0))

def legend_col(xs, xt, rows, labels, colors, size, spacing):
    for yc, lab, col in zip(rows, labels, colors):
        shapes.append(dict(type="rect", xref="x", yref="y", x0=xs[0], x1=xs[1], y0=yc-10, y1=yc+10,
                           fillcolor=col, line=dict(width=0), layer="above"))
        note(xt, yc, lab, size=size, anchor="left", spacing=spacing)

ROW_A = [21,45,69.5,93.5,118,142.5,166.5,191,215,239.5,264]
ROW_B = [22,46.5,70.5,95,119,143,168]
ROW_C = [688,712.5,737,761,785.5,809.5,834,858.5,882.5,907]
ROW_D = [688,712.5,737,761,785.5,809.5,834,858.5,882.5,906.5,930.5]
legend_col((386,424),433,ROW_A,A_LABELS_1,A_COLORS_1,20.5,1.9)
legend_col((516,553),561,ROW_A,A_LABELS_2,A_COLORS_2,20.5,1.9)
note(592,288,"(%)",size=20.5,spacing=1.6)
legend_col((1060,1097),1104,ROW_B,B_LABELS_1,B_COLORS_1,20.5,1.2)
legend_col((1192,1230),1239,ROW_B,B_LABELS_2,B_COLORS_2,20.5,1.2)
note(1275,194,"(%)",size=20.5,spacing=1.6)
legend_col((332,362),371,ROW_C,C_LABELS_1,C_COLORS_1,19.5,0.9)
legend_col((470,500),508,ROW_C,C_LABELS_2,C_COLORS_2,19.5,0.9)
note(552,932,"(g/cm<sup>3</sup>)",size=19.5)
legend_col((1059,1096),1104,ROW_D,D_LABELS_1,D_COLORS_1,20.5,1.9)
legend_col((1181,1218),1222,ROW_D,D_LABELS_2,D_COLORS_2,20.5,1.9)
note(1310,955,"(x 10<sup>-6</sup> SI)",size=19.5,anchor="right",spacing=1.4)

BOXES = [("a",(12,12,54,53),"Sanidine",72,34,-1,1.7),("b",(697,14,740,54),"Biotite",761,35,0,1.7),
         ("c",(12,683,54,722),"Density",72,699,-3,1.7),("d",(733,681,776,720),"Susceptibility (km)",798,699,1,1.9)]
for letter,(x0,y0,x1,y1),title,tx,ty,nudge,track in BOXES:
    shapes.append(dict(type="rect",xref="x",yref="y",x0=x0,x1=x1,y0=y0,y1=y1,fillcolor="white",line=dict(color="#222222",width=1.5),layer="above"))
    notes.append(dict(x=(x0+x1)/2,y=(y0+y1)/2+nudge,xref="x",yref="y",text=f"<b>{letter}</b>",showarrow=False,font=dict(family=TEXT_FONT,size=30,color="#111111")))
    note(tx,ty,title,size=24,anchor="left",spacing=track)

# long unlabelled ticks of the susceptibility axis
for v in SUS_LONG_TICKS:
    shapes.append(dict(type="line",xref="x5",yref="y",x0=v,x1=v,y0=1241,y1=1256,line=dict(color=INK,width=1.6),layer="above"))

# divider lines, north arrow, scale bar
for x0,y0,x1,y1 in [(661,12,661,540),(661,773,661,1305),(12,655,600,655),(722,655,1310,655)]:
    shapes.append(dict(type="line",xref="x",yref="y",x0=x0,x1=x1,y0=y0,y1=y1,line=dict(color="#111111",width=2),layer="above"))
shapes.append(dict(type="path",xref="x",yref="y",path="M 661 558 L 675 706 L 646 706 Z",fillcolor="#1a1a1a",line=dict(width=0),layer="above"))
shapes.append(dict(type="circle",xref="x",yref="y",x0=639,x1=683,y0=634,y1=678,fillcolor="white",line=dict(color="#777777",width=1.5),layer="above"))
for x0,x1 in [(635,641),(681,687)]:
    shapes.append(dict(type="line",xref="x",yref="y",x0=x0,x1=x1,y0=656,y1=656,line=dict(color="#777777",width=1.5),layer="above"))
notes.append(dict(x=660.5,y=656,xref="x",yref="y",text="<b>N</b>",showarrow=False,font=dict(family=TEXT_FONT,size=27,color="#111111")))
note(660,735,"100 m",size=25.5)
shapes.append(dict(type="rect",xref="x",yref="y",x0=607,x1=714,y0=748,y1=758,fillcolor="black",line=dict(width=0),layer="above"))

layout["shapes"] = shapes
layout["annotations"] = notes
fig.update_layout(**layout)
post = ("document.body.style.margin='0';document.documentElement.style.overflow='hidden';"
        "var m=" + json.dumps(tracking) + ";"
        "document.querySelectorAll('.annotation-text').forEach(function(t){var s=m[t.getAttribute('data-unformatted')];"
        "if(s){t.style.letterSpacing=s+'px';}});")
fig.write_html("out.html", config=dict(displayModeBar=False), post_script=post)
